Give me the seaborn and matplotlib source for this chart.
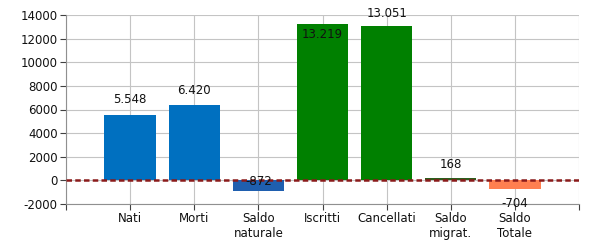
import matplotlib
matplotlib.use("Agg")
import matplotlib.pyplot as plt
import seaborn as sns
import pandas as pd

categories = ["Nati", "Morti", "Saldo\nnaturale", "Iscritti", "Cancellati", "Saldo\nmigrat.", "Saldo\nTotale"]
values = [5548, 6420, -872, 13219, 13051, 168, -704]
bar_colors = ["#0070C0", "#0070C0", "#1F5FAF", "#008000", "#008000", "#2E5E1E", "#FF7F50"]
y_ticks = [-2000, 0, 2000, 4000, 6000, 8000, 10000, 12000, 14000]

# label offsets in pixels relative to bar end (style only)
label_offsets = [15, 14, -1, -10, 13, 14, -15]

sns.set_style("white")
plt.rcParams["font.family"] = ["DejaVu Sans"]

df = pd.DataFrame({"cat": categories, "val": values})

fig = plt.figure(figsize=(6, 2.5), dpi=100)
ax = fig.add_axes([0.11, 0.184, 0.855, 0.756])

sns.barplot(data=df, x="cat", y="val", hue="cat", palette=bar_colors,
            width=0.8, legend=False, ax=ax, saturation=1, zorder=2,
            edgecolor="none", linewidth=0)

ax.set_xlim(-1, len(categories))
ax.set_ylim(-2000, 14000)
ax.set_yticks(y_ticks)
ax.set_yticklabels([str(t) for t in y_ticks])
ax.set_xticks(list(range(-1, len(categories) + 1)))
ax.set_xticklabels([""] + categories + [""])
ax.grid(True, color="#c4c4c4", lw=0.8, zorder=0)
ax.set_axisbelow(True)
ax.set_xlabel("")
ax.set_ylabel("")
for s in ["top", "right"]:
    ax.spines[s].set_visible(False)
for s in ["left", "bottom"]:
    ax.spines[s].set_color("#909090")
ax.tick_params(axis="both", which="both", length=4, width=0.8, color="#404040",
               labelsize=8.5, labelcolor="#111111", direction="out", left=True, bottom=True, pad=2)

ax.axhline(0, color="#8B1A1A", lw=1.8, dashes=(2.2, 1.3), zorder=5)

def fmt(v):
    return f"{v:,}".replace(",", ".")

for i, (v, off) in enumerate(zip(values, label_offsets)):
    ax.annotate(fmt(v), xy=(i, v if i != 2 else 0), xytext=(0, off * 0.72),
                textcoords="offset points", ha="center", va="center",
                fontsize=8.5, color="#111111", zorder=6)

fig.savefig("out.png", dpi=100)
